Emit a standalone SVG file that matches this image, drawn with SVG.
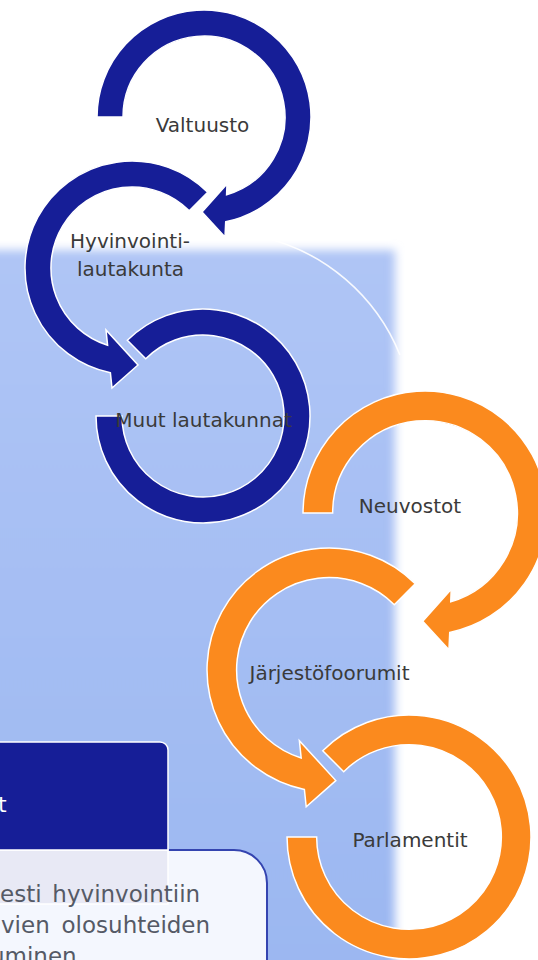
<svg xmlns="http://www.w3.org/2000/svg" width="538" height="960" viewBox="0 0 538 960">
<defs>
<style>
.blue{fill:#161e97;stroke:#ffffff;stroke-width:1.5;stroke-linejoin:miter}
.orange{fill:#fb8a1e;stroke:#ffffff;stroke-width:1.3;stroke-linejoin:miter}
.lbl{font-family:"DejaVu Sans",Verdana,sans-serif;font-size:20px;fill:#3a3a3a;text-anchor:middle}
.body{font-family:"DejaVu Sans",Verdana,sans-serif;font-size:23px;fill:#555a66}
</style>
<linearGradient id="bg" x1="0" y1="0" x2="0" y2="1">
<stop offset="0" stop-color="#afc5f5"/>
<stop offset="1" stop-color="#9ab6f1"/>
</linearGradient>
<filter id="soft" x="-0.1" y="-0.1" width="1.2" height="1.2">
<feGaussianBlur stdDeviation="5"/>
</filter>
<path id="shapeA" d="M -107,0 A 107 107 0 1 1 21.7,104.8 L 21,120 L -2,95 L 23,67 L 22.6,77.8 A 81 81 0 1 0 -81,0 Z"/>
<path id="shapeB" d="M 75.66,-75.66 A 107 107 0 1 0 -21.6,104.8 L -20,120 L 6,97 L -26,62 L -24.4,77.2 A 81 81 0 1 1 57.28,-57.28 Z"/>
<path id="shapeC" d="M -75.66,-75.66 A 107 107 0 1 1 -107,0 L -81,0 A 81 81 0 1 0 -57.28,-57.28 Z"/>
</defs>
<rect x="0" y="0" width="538" height="960" fill="#ffffff"/>
<g id="background">
<rect x="-40" y="250" width="435" height="760" fill="url(#bg)" filter="url(#soft)"/>
<path d="M 262,237 A 197 197 0 0 1 400,355" fill="none" stroke="#ffffff" stroke-width="1.6" opacity="0.9"/>
</g>
<g id="connectors"></g>
<g id="valtuusto">
<use href="#shapeA" class="blue" transform="translate(204,117)"/>
<text class="lbl" x="202.5" y="132">Valtuusto</text>
</g>
<g id="hyvinvointilautakunta">
<use href="#shapeB" class="blue" transform="translate(132,268)"/>
<text class="lbl" x="130" y="248">Hyvinvointi-</text>
<text class="lbl" x="130.5" y="276">lautakunta</text>
</g>
<g id="muut-lautakunnat">
<use href="#shapeC" class="blue" transform="translate(203,416)"/>
<text class="lbl" x="203.5" y="427">Muut lautakunnat</text>
</g>
<g id="neuvostot">
<use href="#shapeA" class="orange" transform="translate(425,513) scale(1.14)"/>
<text class="lbl" x="410" y="513">Neuvostot</text>
</g>
<g id="jarjestofoorumit">
<use href="#shapeB" class="orange" transform="translate(329,670) scale(1.14)"/>
<text class="lbl" x="329.5" y="680">Järjestöfoorumit</text>
</g>
<g id="parlamentit">
<use href="#shapeC" class="orange" transform="translate(409,837) scale(1.14)"/>
<text class="lbl" x="410" y="847">Parlamentit</text>
</g>
<g id="textbox">
<path d="M -10,850 L 234,850 A 33 33 0 0 1 267,883 L 267,975 L -10,975 Z" fill="#f4f7fe" stroke="#3444b0" stroke-width="2"/>
<rect x="-10" y="850" width="178" height="54" fill="#e8e9f5" stroke="#ffffff" stroke-width="1.5"/>
<path d="M -10,742 L 160,742 A 8 8 0 0 1 168,750 L 168,850 L -10,850 Z" fill="#161e97" stroke="#ffffff" stroke-width="1.5"/>
<text x="-2" y="812" font-family="DejaVu Sans, Verdana, sans-serif" font-size="22" fill="#ffffff">t</text>
<text class="body" x="0" y="902" word-spacing="3.5">esti hyvinvointiin</text>
<text class="body" x="1" y="933" word-spacing="4.5">vien olosuhteiden</text>
<text class="body" x="-10" y="964">uminen</text>
</g>
</svg>
